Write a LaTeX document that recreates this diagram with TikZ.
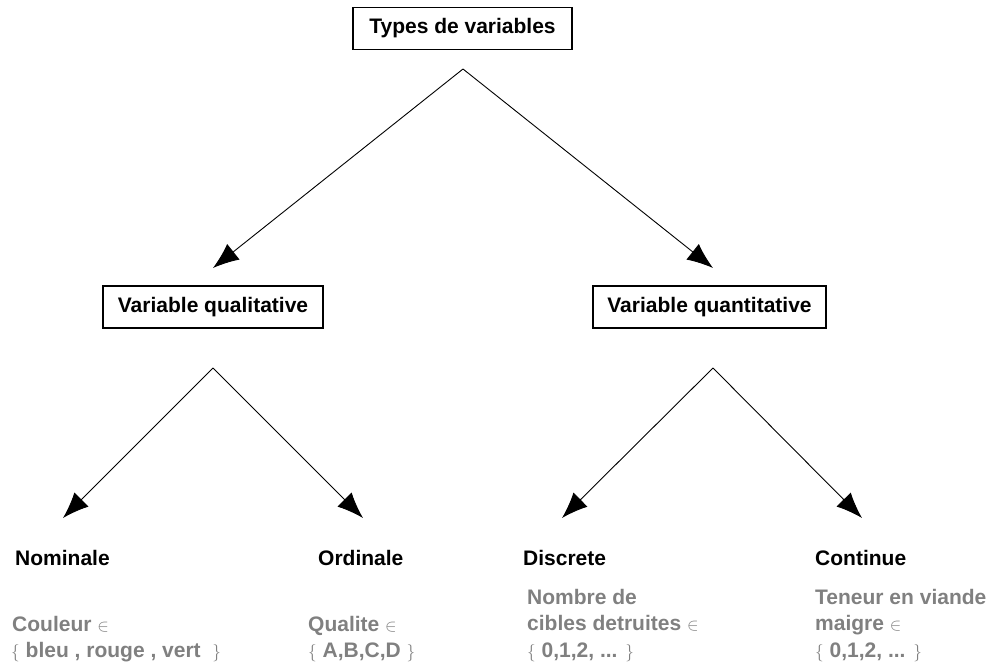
\documentclass[tikz,border=0pt]{standalone}
\usepackage{fontspec}
\setmainfont{Liberation Sans}
\usetikzlibrary{arrows.meta,positioning}

\newcommand{\memb}{{\fontsize{17}{20}\selectfont$\in$}}
\newcommand{\lset}{{\fontsize{17}{20}\selectfont$\{$}}
\newcommand{\rset}{{\fontsize{17}{20}\selectfont$\}$}}

\begin{document}
\begin{tikzpicture}[x=1pt, y=-1pt, font=\fontsize{21}{25}\selectfont\bfseries,
    >={Latex[length=26pt,width=20pt]},
    typebox/.style={draw, line width=1.6pt, minimum height=42pt, inner sep=0pt},
    branch/.style={->, line width=.9pt},
    kind/.style={anchor=base west, inner sep=0pt},
    example/.style={anchor=base west, inner sep=0pt, text=black!50}]
    \useasboundingbox (0,0) rectangle (991,671);
    % boxes
    \node[typebox, minimum width=219pt] (types) at (462.5,28.5) {Types de variables};
    \node[typebox, minimum width=220pt] (qual) at (213,307) {Variable qualitative};
    \node[typebox, minimum width=233pt] (quant) at (709.5,307) {Variable quantitative};
    % forks and tips
    \coordinate (types fork) at (463,69);
    \coordinate (qual tip) at (213,268);
    \coordinate (quant tip) at (713,268);
    \coordinate (qual fork) at (213,368);
    \coordinate (quant fork) at (713,368);
    \coordinate (nom tip) at (63,518);
    \coordinate (ord tip) at (363,518);
    \coordinate (disc tip) at (562,518);
    \coordinate (cont tip) at (862,518);
    \draw[branch] (types fork) -- (qual tip);
    \draw[branch] (types fork) -- (quant tip);
    \draw[branch] (qual fork) -- (nom tip);
    \draw[branch] (qual fork) -- (ord tip);
    \draw[branch] (quant fork) -- (disc tip);
    \draw[branch] (quant fork) -- (cont tip);
    % kinds
    \node[kind] (nominale) at (15,565) {Nominale};
    \node[kind] (ordinale) at (318,565) {Ordinale};
    \node[kind] (discrete) at (523,565) {Discrete};
    \node[kind] (continue) at (815,565) {Continue};
    % examples
    \node[example] (couleur) at (12,631) {Couleur \memb};
    \node[example] (couleur set) at (11,657) {\lset\ bleu , rouge , vert \ \rset};
    \node[example] (qualite) at (308,631) {Qualite \memb};
    \node[example] (qualite set) at (308,657) {\lset\ A,B,C,D \rset};
    \node[example] (nombre) at (527,604) {Nombre de};
    \node[example] (cibles) at (527,630) {cibles detruites \memb};
    \node[example] (cibles set) at (527,657) {\lset\ 0,1,2, ... \rset};
    \node[example] (teneur) at (815,604) {Teneur en viande};
    \node[example] (maigre) at (815,630) {maigre \memb};
    \node[example] (maigre set) at (815,657) {\lset\ 0,1,2, ... \rset};
\end{tikzpicture}
\end{document}
